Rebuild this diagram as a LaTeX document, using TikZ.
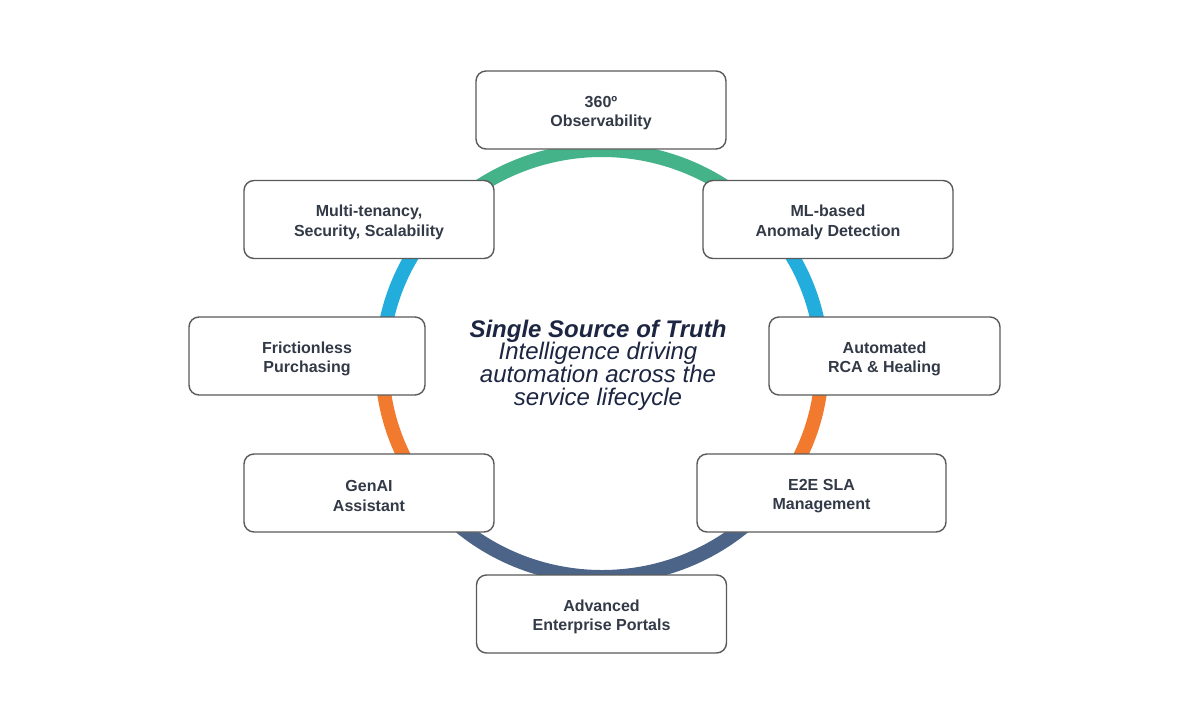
\documentclass[tikz,border=0pt]{standalone}
\usepackage{fontspec}
\setmainfont{Liberation Sans}
\definecolor{ringgreen}{HTML}{45B38A}
\definecolor{ringblue}{HTML}{22ADDC}
\definecolor{ringorange}{HTML}{F27A2E}
\definecolor{ringslate}{HTML}{4B6488}
\definecolor{boxline}{HTML}{5A5A5A}
\definecolor{boxtext}{HTML}{333A47}
\definecolor{titletext}{HTML}{1C2541}
\tikzset{
  card/.style={draw=boxline, line width=1.4pt, fill=white, rounded corners=10pt,
    inner sep=0pt, minimum height=78pt},
  cardtext/.style={align=center, text=boxtext, font=\fontsize{16}{19.5}\selectfont\bfseries,
    inner sep=0pt, yshift=-3pt},
  ring/.style={line width=14pt},
}
\newcommand{\ringarc}[3]{%
  \draw[ring, #1] (c) ++(#2:220 and 213.5)
    arc[start angle=#2, end angle=#3, x radius=220, y radius=213.5];}
\begin{document}
\begin{tikzpicture}[x=1pt, y=-1pt]
\useasboundingbox[fill=white] (0,0) rectangle (1200,715);
\coordinate (c) at (602,363.5);
% ring segments (y axis points down: angles are mirrored)
\ringarc{ringgreen}{-139}{-41}
\ringarc{ringblue}{-181}{-138}
\ringarc{ringblue}{-42}{1}
\ringarc{ringorange}{142}{181}
\ringarc{ringorange}{-1}{38}
\ringarc{ringslate}{37}{143}
% boxes
\node[card, minimum width=250pt, label={[cardtext]center:{360º\\Observability}}] (obs) at (601,110) {};
\node[card, minimum width=250pt, label={[cardtext]center:{Multi-tenancy,\\Security, Scalability}}] (mt) at (369,219.5) {};
\node[card, minimum width=250pt, label={[cardtext]center:{ML-based\\Anomaly Detection}}] (ml) at (828,219.5) {};
\node[card, minimum width=236pt, label={[cardtext]center:{Frictionless\\Purchasing}}] (fp) at (307,356) {};
\node[card, minimum width=231pt, label={[cardtext]center:{Automated\\RCA \& Healing}}] (rca) at (884.5,356) {};
\node[card, minimum width=250pt, label={[cardtext]center:{GenAI\\Assistant}}] (gen) at (369,493) {};
\node[card, minimum width=249pt, label={[cardtext]center:{E2E SLA\\Management}}] (sla) at (821.5,493) {};
\node[card, minimum width=250pt, label={[cardtext]center:{Advanced\\Enterprise Portals}}] (port) at (601.5,614) {};
% centre text
\node[align=center, text=titletext, font=\fontsize{24}{22.6}\selectfont\itshape] (core) at (598,365)
  {\bfseries Single Source of Truth\\Intelligence driving\\automation across the\\service lifecycle};
\end{tikzpicture}
\end{document}
